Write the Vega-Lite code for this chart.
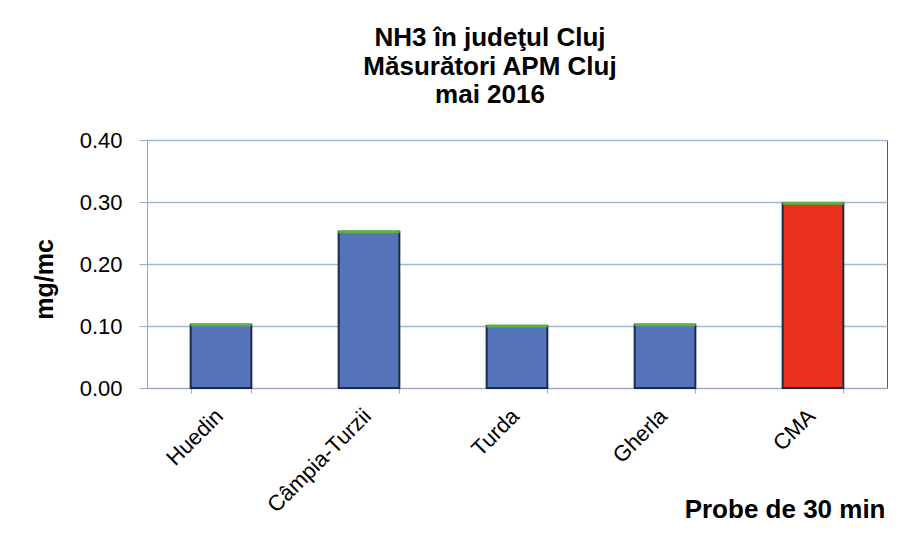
{
  "$schema": "https://vega.github.io/schema/vega-lite/v6.json",
  "width": 740,
  "height": 248,
  "autosize": {"type": "none"},
  "padding": {"left": 147, "top": 140, "right": 16, "bottom": 147},
  "background": "white",
  "title": {
    "text": ["NH3 în judeţul Cluj", "Măsurători APM Cluj", "mai 2016"],
    "font": "Liberation Sans",
    "fontSize": 26,
    "fontWeight": "bold",
    "color": "#000000",
    "anchor": "middle",
    "frame": "group",
    "dx": -27,
    "offset": 21,
    "lineHeight": 28.5
  },
  "data": {
    "values": [
      {"statie": "Huedin", "valoare": 0.102, "tip": "normal"},
      {"statie": "Câmpia-Turzii", "valoare": 0.252, "tip": "normal"},
      {"statie": "Turda", "valoare": 0.100, "tip": "normal"},
      {"statie": "Gherla", "valoare": 0.102, "tip": "normal"},
      {"statie": "CMA", "valoare": 0.298, "tip": "cma"}
    ]
  },
  "encoding": {
    "x": {
      "field": "statie",
      "type": "nominal",
      "sort": null,
      "scale": {"paddingInner": 0.59, "paddingOuter": 0.295},
      "axis": {
        "title": "Probe de 30 min",
        "titleFont": "Liberation Sans",
        "titleFontSize": 26,
        "titleFontWeight": "bold",
        "titleColor": "#000000",
        "titleAnchor": "end",
        "titleAlign": "right",
        "titleBaseline": "alphabetic",
        "titleX": 738,
        "titleY": 129,
        "labelAngle": -45,
        "labelFont": "Liberation Sans",
        "labelFontSize": 22,
        "labelColor": "#000000",
        "labelPadding": 12,
        "labelOffset": -9,
        "domainColor": "#9aa8c0",
        "ticks": true,
        "tickBand": "extent",
        "tickSize": 5,
        "tickColor": "#9aa8c0"
      }
    },
    "y": {
      "field": "valoare",
      "type": "quantitative",
      "scale": {"domain": [0, 0.4]},
      "axis": {
        "title": "mg/mc",
        "titleFont": "Liberation Sans",
        "titleFontSize": 25,
        "titleFontWeight": "bold",
        "titleColor": "#000000",
        "titlePadding": 22,
        "titleY": 139,
        "values": [0, 0.1, 0.2, 0.3, 0.4],
        "format": ".2f",
        "labelFont": "Liberation Sans",
        "labelFontSize": 22,
        "labelColor": "#000000",
        "labelPadding": 17,
        "tickSize": 8,
        "tickColor": "#9aa8c0",
        "domainColor": "#9aa8c0",
        "gridColor": "#a3b8d6",
        "gridWidth": 1.5
      }
    }
  },
  "layer": [
    {
      "mark": {"type": "bar", "stroke": "#1c2a4a", "strokeWidth": 2},
      "encoding": {
        "color": {
          "field": "tip",
          "type": "nominal",
          "scale": {"domain": ["normal", "cma"], "range": ["#5573b8", "#e8301c"]},
          "legend": null
        }
      }
    },
    {
      "mark": {"type": "tick", "color": "#5db33a", "thickness": 3, "size": 61, "opacity": 1},
      "encoding": {}
    }
  ],
  "config": {
    "view": {"stroke": "#2f6b78", "strokeWidth": 1}
  }
}
